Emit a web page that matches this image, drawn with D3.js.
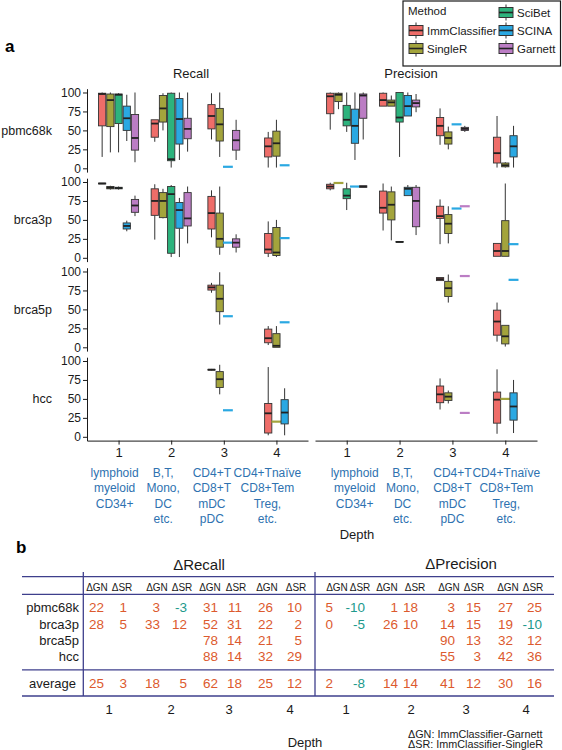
<!DOCTYPE html>
<html><head><meta charset="utf-8">
<script src="https://cdn.jsdelivr.net/npm/d3@7"></script>
<style>
body{margin:0;background:#fff}
svg{display:block}
text{font-family:"Liberation Sans",Arial,Helvetica,sans-serif}
</style>
</head><body>
<svg id="c" width="562" height="750"></svg>
<script>
// ---------------- DATA ----------------
const methods = ["ImmClassifier","SingleR","SciBet","SCINA","Garnett"];
const methodColors = ["#EE6D69","#A3A43C","#2DB37D","#2AA8E2","#BB7DC4"];
const datasets = ["pbmc68k","brca3p","brca5p","hcc"];
const depths = ["1","2","3","4"];
const depthDescriptions = [
  ["lymphoid","myeloid","CD34+"],
  ["B,T,","Mono,","DC","etc."],
  ["CD4+T","CD8+T","mDC","pDC"],
  ["CD4+Tnaïve","CD8+Tem","Treg,","etc."]
];
const metrics = ["Recall","Precision"];
const yTicks = [0,25,50,75,100];

// [dataset, depth, method, min, q1, median, q3, max]
const recallBoxes = [
  ["pbmc68k","1","ImmClassifier",15,56,98,99,100],
  ["pbmc68k","1","SingleR",21,55,90,98,100],
  ["pbmc68k","1","SciBet",21,59,97,98,99],
  ["pbmc68k","1","SCINA",36,50,66,82,97],
  ["pbmc68k","1","Garnett",8,24,40,71,100],
  ["pbmc68k","2","ImmClassifier",35,41,59,64,64],
  ["pbmc68k","2","SingleR",50,61,79,96,99],
  ["pbmc68k","2","SciBet",1,10,12,99,100],
  ["pbmc68k","2","SCINA",11,32,65,92,100],
  ["pbmc68k","2","Garnett",22,39,52,66,100],
  ["pbmc68k","3","ImmClassifier",38,52,69,84,99],
  ["pbmc68k","3","SingleR",15,36,58,79,100],
  ["pbmc68k","3","SCINA",2,2,2,2,2],
  ["pbmc68k","3","Garnett",11,24,37,50,64],
  ["pbmc68k","4","ImmClassifier",1,15,29,40,48],
  ["pbmc68k","4","SingleR",1,16,33,49,64],
  ["pbmc68k","4","SCINA",4,4,4,4,4],
  ["brca3p","1","ImmClassifier",97.5,97.5,98,98.5,98.5],
  ["brca3p","1","SingleR",90,91,92.5,94,95],
  ["brca3p","1","SciBet",90,91,92,93,94],
  ["brca3p","1","SCINA",35,38,42,46,49],
  ["brca3p","1","Garnett",55,60,69,77,82],
  ["brca3p","2","ImmClassifier",24,56,75,91,97],
  ["brca3p","2","SingleR",52,53,75,86,91],
  ["brca3p","2","SciBet",1,6,84,94,96],
  ["brca3p","2","SCINA",1,39,63,73,79],
  ["brca3p","2","Garnett",19,42,52,86,94],
  ["brca3p","3","ImmClassifier",27,38,59,81,89],
  ["brca3p","3","SingleR",4,14,25,59,94],
  ["brca3p","3","SCINA",20,20,20,20,20],
  ["brca3p","3","Garnett",7,14,20,25,31],
  ["brca3p","4","ImmClassifier",1,6,11,32,48],
  ["brca3p","4","SingleR",1,3,7,40,50],
  ["brca3p","4","SCINA",26,26,26,26,26],
  ["brca5p","3","ImmClassifier",72,75.5,79,82,85],
  ["brca5p","3","SingleR",30,47,64,82,99],
  ["brca5p","3","SCINA",41,41,41,41,41],
  ["brca5p","4","ImmClassifier",3,6,12,24,28],
  ["brca5p","4","SingleR",0,0,2,18,28],
  ["brca5p","4","SCINA",33,33,33,33,33],
  ["hcc","3","ImmClassifier",87.5,88,88.5,89,89.5],
  ["hcc","3","SingleR",56,65,76,86,95],
  ["hcc","3","SCINA",35,35,35,35,35],
  ["hcc","4","ImmClassifier",2,5,31,44,92],
  ["hcc","4","SingleR",20,20,20,20,20],
  ["hcc","4","SCINA",2,17,32,49,64]
];
const precisionBoxes = [
  ["pbmc68k","1","ImmClassifier",51,72,95,99,100],
  ["pbmc68k","1","SingleR",78,88,97,99,100],
  ["pbmc68k","1","SciBet",48,56,64,83,100],
  ["pbmc68k","1","SCINA",11,33,56,78,100],
  ["pbmc68k","1","Garnett",38,66,96,98,100],
  ["pbmc68k","2","ImmClassifier",82,82,90,99,100],
  ["pbmc68k","2","SingleR",82,82,87,90,96],
  ["pbmc68k","2","SciBet",15,61,67,100,100],
  ["pbmc68k","2","SCINA",69,69,82,96,100],
  ["pbmc68k","2","Garnett",74,81,86,90,98],
  ["pbmc68k","3","ImmClassifier",31,43,56,67,79],
  ["pbmc68k","3","SingleR",25,32,40,48,55],
  ["pbmc68k","3","SCINA",58,58,58,58,58],
  ["pbmc68k","3","Garnett",48,50,52,54,56],
  ["pbmc68k","4","ImmClassifier",1,7,20,41,69],
  ["pbmc68k","4","SingleR",1,2,4,7,8],
  ["pbmc68k","4","SCINA",1,15,29,43,56],
  ["brca3p","1","ImmClassifier",89,91,94,97,99],
  ["brca3p","1","SingleR",98.7,98.7,98.7,98.7,98.7],
  ["brca3p","1","SciBet",63,78,82,91,99],
  ["brca3p","1","SCINA",94,94,94,94,94],
  ["brca3p","1","Garnett",93,93,94,95,95],
  ["brca3p","2","ImmClassifier",36,59,66,88,98],
  ["brca3p","2","SingleR",23,50,70,87,94],
  ["brca3p","2","SciBet",20.5,20.5,21,21.5,21.5],
  ["brca3p","2","SCINA",82,82,91,93,96],
  ["brca3p","2","Garnett",30,41,75,93,96],
  ["brca3p","3","ImmClassifier",18,52,55,68,77],
  ["brca3p","3","SingleR",19,32,45,57,68],
  ["brca3p","3","SCINA",65,65,65,65,65],
  ["brca3p","3","Garnett",68,68,68,68,68],
  ["brca3p","4","ImmClassifier",2,2,9,19,19],
  ["brca3p","4","SingleR",2,2,9,49,98],
  ["brca3p","4","SCINA",18,18,18,18,18],
  ["brca5p","3","ImmClassifier",88,88,90,92,92],
  ["brca5p","3","SingleR",59,67,78,87,96],
  ["brca5p","3","Garnett",94,94,94,94,94],
  ["brca5p","4","ImmClassifier",7.5,16,34,49,59],
  ["brca5p","4","SingleR",1,4.5,14.5,29,29],
  ["brca5p","4","SCINA",89,89,89,89,89],
  ["hcc","3","ImmClassifier",36,45,56,67,77],
  ["hcc","3","SingleR",44,48,53,58,61],
  ["hcc","3","Garnett",31.5,31.5,31.5,31.5,31.5],
  ["hcc","4","ImmClassifier",4,18,49,59,89],
  ["hcc","4","SingleR",50,50,50,50,50],
  ["hcc","4","SCINA",5,22,40,58,75]
];

// Table b
const tableRows = ["pbmc68k","brca3p","brca5p","hcc","average"];
const deltaRecallGN    = [[22,3,31,26],[28,33,52,22],[null,null,78,21],[null,null,88,32],[25,18,62,25]];
const deltaRecallSR    = [[1,-3,11,10],[5,12,31,2],[null,null,14,5],[null,null,14,29],[3,5,18,12]];
const deltaPrecisionGN = [[5,1,3,27],[0,26,14,19],[null,null,90,32],[null,null,55,42],[2,14,41,30]];
const deltaPrecisionSR = [[-10,18,15,25],[-5,10,15,-10],[null,null,13,12],[null,null,3,36],[-8,14,12,16]];
const deltaHeaders = ["ΔGN","ΔSR"];
const footnotes = ["ΔGN: ImmClassifier-Garnett","ΔSR: ImmClassifier-SingleR"];

// ---------------- DRAW ----------------
const svg = d3.select("#c");
const ink = "#1a1a1a";
const color = d3.scaleOrdinal().domain(methods).range(methodColors);

// panel a geometry
const panelX = {Recall:[87,308], Precision:[315,537]};
const rowTop0 = 88.7, rowH = 83.4, rowPitch = 89.5;
const yScales = datasets.map((d,i)=> d3.scaleLinear().domain([-5,105])
  .range([rowTop0 + i*rowPitch + rowH, rowTop0 + i*rowPitch]));
const xScales = {};
metrics.forEach(m => {
  xScales[m] = d3.scalePoint().domain(depths).range(panelX[m]).padding(0.6);
});

// slots per depth (union of methods present at that depth)
const allBoxes = recallBoxes.concat(precisionBoxes);
const slotsByDepth = {};
depths.forEach(dp => {
  const present = new Set(allBoxes.filter(b=>b[1]===dp).map(b=>b[2]));
  slotsByDepth[dp] = methods.filter(m=>present.has(m));
});

// label a
svg.append("text").attr("x",5).attr("y",52).attr("font-size",17).attr("font-weight","bold").text("a");

// legend
const lg = svg.append("g");
lg.append("rect").attr("x",403).attr("y",1).attr("width",157.5).attr("height",65)
  .attr("fill","#fff").attr("stroke",ink).attr("stroke-width",1.2);
lg.append("text").attr("x",408).attr("y",15).attr("font-size",11.5).attr("fill",ink).text("Method");
const legendPos = {
  "ImmClassifier":[409,30.5], "SingleR":[409,48.5],
  "SciBet":[499,12.5], "SCINA":[499,30.5], "Garnett":[499,48.5]
};
methods.forEach(m => {
  const [lx,ly] = legendPos[m];
  const g = lg.append("g").attr("transform",`translate(${lx},${ly})`);
  g.append("line").attr("x1",7).attr("x2",7).attr("y1",-8).attr("y2",8).attr("stroke","#333");
  g.append("rect").attr("x",0).attr("y",-5).attr("width",14).attr("height",10)
    .attr("fill",color(m)).attr("stroke","#333");
  g.append("line").attr("x1",0).attr("x2",14).attr("y1",0).attr("y2",0).attr("stroke","#222").attr("stroke-width",1.6);
  g.append("text").attr("x",18).attr("y",4.2).attr("font-size",11.5).attr("fill",ink).text(m);
});

// strip titles
const stripX = {Recall:191, Precision:411};
metrics.forEach(m=>{
  svg.append("text").attr("x",stripX[m]).attr("y",78).attr("text-anchor","middle")
    .attr("font-size",13).attr("fill",ink).text(m);
});

// row labels + y axes
datasets.forEach((ds,i)=>{
  const y = yScales[i];
  svg.append("text").attr("x",52).attr("y",(y(0)+y(100))/2+4.5).attr("text-anchor","end")
    .attr("font-size",12.5).attr("fill",ink).text(ds);
  const ax = svg.append("g").attr("transform",`translate(${panelX.Recall[0]},0)`)
    .call(d3.axisLeft(y).tickValues(yTicks).tickSize(4).tickSizeOuter(0).tickPadding(2));
  ax.selectAll("text").attr("font-size",12).attr("fill",ink)
    .attr("font-family",'"Liberation Sans",Arial,sans-serif');
  ax.selectAll("line,path").attr("stroke",ink);
});

// boxes
function drawBoxes(metric, boxes){
  const x = xScales[metric];
  const slotW = x.step()*0.78/5;
  const boxW = slotW*0.88;
  const g = svg.append("g");
  boxes.forEach(b=>{
    const [ds,dp,m,mn,q1,md,q3,mx] = b;
    const y = yScales[datasets.indexOf(ds)];
    const slots = slotsByDepth[dp];
    const cx = x(dp) + (slots.indexOf(m) - (slots.length-1)/2)*slotW;
    if (mn===mx){
      g.append("line").attr("x1",cx-slotW*0.6).attr("x2",cx+slotW*0.6)
        .attr("y1",y(md)).attr("y2",y(md)).attr("stroke",color(m)).attr("stroke-width",2.2);
      return;
    }
    g.append("line").attr("x1",cx).attr("x2",cx).attr("y1",y(mx)).attr("y2",y(q3))
      .attr("stroke","#333").attr("stroke-width",1);
    g.append("line").attr("x1",cx).attr("x2",cx).attr("y1",y(q1)).attr("y2",y(mn))
      .attr("stroke","#333").attr("stroke-width",1);
    g.append("rect").attr("x",cx-boxW/2).attr("width",boxW)
      .attr("y",y(q3)).attr("height",Math.max(0.01,y(q1)-y(q3)))
      .attr("fill",color(m)).attr("stroke","#333").attr("stroke-width",0.9);
    g.append("line").attr("x1",cx-boxW/2).attr("x2",cx+boxW/2).attr("y1",y(md)).attr("y2",y(md))
      .attr("stroke","#222").attr("stroke-width",1.8);
  });
}
drawBoxes("Recall", recallBoxes);
drawBoxes("Precision", precisionBoxes);

// x axes
const xAxisY = yScales[3].range()[0];
const descOffsets = {Recall:[-4,-8,-12,-9], Precision:[8,3,0,1]};
metrics.forEach(m=>{
  const ax = svg.append("g").attr("transform",`translate(0,${xAxisY})`)
    .call(d3.axisBottom(xScales[m]).tickSize(4).tickSizeOuter(0).tickPadding(3));
  ax.selectAll("text").attr("font-size",13).attr("fill",ink)
    .attr("font-family",'"Liberation Sans",Arial,sans-serif');
  ax.selectAll("line,path").attr("stroke",ink);
  depths.forEach((dp,j)=>{
    const t = svg.append("text").attr("text-anchor","middle").attr("font-size",12)
      .attr("fill","#2E72B0");
    depthDescriptions[j].forEach((line,k)=>{
      t.append("tspan").attr("x",xScales[m](dp)+descOffsets[m][j]).attr("y",477+k*15.4).text(line);
    });
  });
});
svg.append("text").attr("x",357).attr("y",539).attr("text-anchor","middle")
  .attr("font-size",13).attr("fill",ink).text("Depth");

// ---------------- panel b ----------------
svg.append("text").attr("x",16).attr("y",553).attr("font-size",17).attr("font-weight","bold").text("b");
svg.append("text").attr("x",199).attr("y",570).attr("text-anchor","middle").attr("font-size",15).attr("fill",ink).text("ΔRecall");
svg.append("text").attr("x",461).attr("y",569).attr("text-anchor","middle").attr("font-size",15).attr("fill",ink).text("ΔPrecision");

const lineCol = "#3E3F8C";
const tableX0 = 22, tableX1 = 554;
[576.7, 594.3, 669.8, 696].forEach(yy=>{
  svg.append("line").attr("x1",tableX0).attr("x2",tableX1).attr("y1",yy).attr("y2",yy)
    .attr("stroke",lineCol).attr("stroke-width",1.3);
});
[83.3, 315].forEach(xx=>{
  svg.append("line").attr("x1",xx).attr("x2",xx).attr("y1",572).attr("y2",696)
    .attr("stroke",lineCol).attr("stroke-width",1.3);
});

const headerCenters = {
  Recall:[[97,122],[157,182],[210,236],[267,296]],
  Precision:[[337,360],[387,415],[449,474],[508,533]]
};
const numberRight = {
  Recall:[[104,127],[160,187],[218,242],[273,302]],
  Precision:[[333,365],[398,418],[455,481],[513,542]]
};
const depthLabelX = {Recall:[109,171,229,290], Precision:[346,411,466,526]};
const rowY = [607.7,624.2,640,656,683];
const posCol = "#DC5A2E", negCol = "#21998C";

metrics.forEach(m=>{
  const gn = m==="Recall" ? deltaRecallGN : deltaPrecisionGN;
  const sr = m==="Recall" ? deltaRecallSR : deltaPrecisionSR;
  depths.forEach((dp,j)=>{
    deltaHeaders.forEach((h,k)=>{
      svg.append("text").attr("x",headerCenters[m][j][k]).attr("y",590.8).attr("text-anchor","middle")
        .attr("font-size",10).attr("fill",ink).text(h);
    });
    [gn,sr].forEach((arr,k)=>{
      tableRows.forEach((r,ri)=>{
        const v = arr[ri][j];
        if (v===null) return;
        svg.append("text").attr("x",numberRight[m][j][k]).attr("y",rowY[ri]+4.6)
          .attr("text-anchor","end").attr("font-size",13.5)
          .attr("fill", v<0 ? negCol : posCol).text(v);
      });
    });
    svg.append("text").attr("x",depthLabelX[m][j]).attr("y",713.5).attr("text-anchor","middle")
      .attr("font-size",13).attr("fill",ink).text(dp);
  });
});
tableRows.forEach((r,ri)=>{
  svg.append("text").attr("x",ri===4?76:79).attr("y",rowY[ri]+4.6).attr("text-anchor","end")
    .attr("font-size",13).attr("fill",ink).text(r);
});
svg.append("text").attr("x",305).attr("y",747).attr("text-anchor","middle")
  .attr("font-size",13).attr("fill",ink).text("Depth");
footnotes.forEach((f,k)=>{
  svg.append("text").attr("x",408).attr("y",737.5+k*10.5).attr("font-size",10.8).attr("fill",ink).text(f);
});
</script>
</body></html>
